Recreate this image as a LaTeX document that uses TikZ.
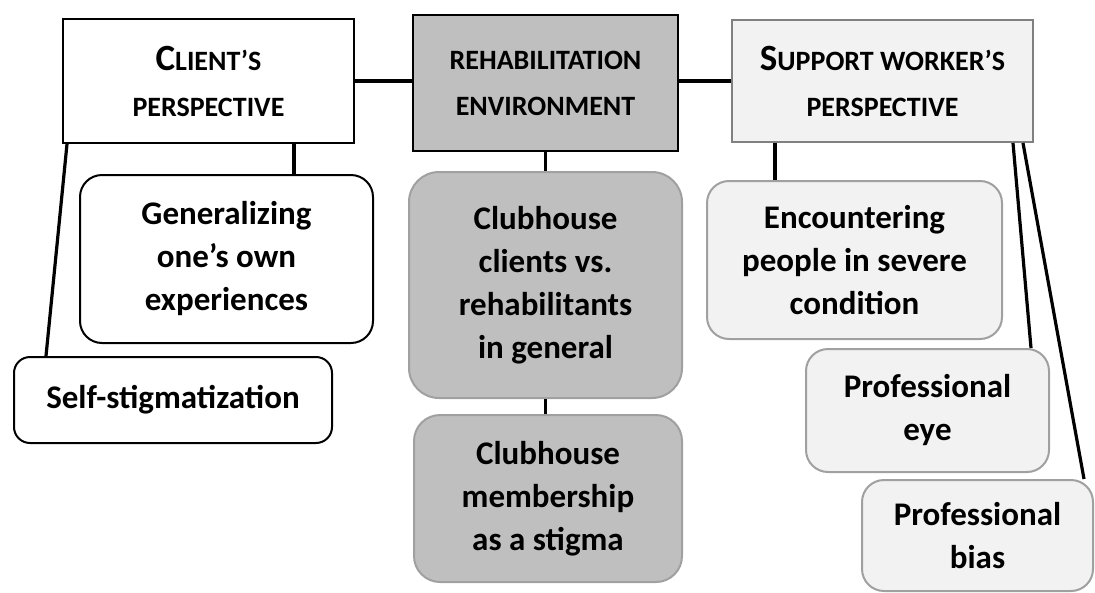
\documentclass[tikz,border=0pt]{standalone}
\usepackage{fontspec}
\setmainfont{Carlito}
\usetikzlibrary{positioning,calc}
\definecolor{envgray}{HTML}{BFBFBF}
\definecolor{lightbox}{HTML}{F2F2F2}
\definecolor{rimgray}{HTML}{A0A0A0}
\newcommand{\initcap}[1]{{\fontsize{37}{46}\selectfont #1}}

\tikzset{
  head/.style={draw, line width=2pt, align=center, inner sep=0pt,
               font=\fontsize{28}{46}\selectfont\bfseries},
  theme/.style={draw, line width=2pt, rounded corners=22pt, align=center, inner sep=0pt,
               font=\fontsize{33}{43}\selectfont\bfseries},
  link/.style={line width=3.2pt}
}

\begin{document}
\begin{tikzpicture}[x=1pt, y=-1pt]
\useasboundingbox (0,0) rectangle (1095,592);

% three perspectives
\node[head, fill=white, minimum width=291pt, minimum height=124pt] (client) at (208.5,81)
  {\initcap{C}LIENT’S\\PERSPECTIVE};
\node[head, fill=envgray, minimum width=265pt, minimum height=136pt] (env) at (545.5,83)
  {REHABILITATION\\ENVIRONMENT};
\node[head, draw=gray, fill=lightbox, minimum width=301pt, minimum height=122pt] (worker) at (882.5,81)
  {\initcap{S}UPPORT WORKER’S\\PERSPECTIVE};

% client themes
\node[theme, fill=white, minimum width=293pt, minimum height=168pt] (general) at (226.5,259)
  {Generalizing\\one’s own\\experiences};
\node[theme, fill=white, minimum width=318pt, minimum height=86pt, rounded corners=16pt] (selfstig) at (173,400)
  {Self-stigmatization};

% environment themes
\node[theme, draw=rimgray, fill=envgray, minimum width=273pt, minimum height=226pt, rounded corners=30pt] (clients) at (545.5,285)
  {Clubhouse\\clients vs.\\rehabilitants\\in general};
\node[theme, draw=rimgray, fill=envgray, minimum width=268pt, minimum height=167pt, rounded corners=26pt] (member) at (548,498.5)
  {Clubhouse\\membership\\as a stigma};

% worker themes
\node[theme, draw=rimgray, fill=lightbox, minimum width=295pt, minimum height=158pt] (encounter) at (854.5,260)
  {Encountering\\people in severe\\condition};
\node[theme, draw=rimgray, fill=lightbox, minimum width=243pt, minimum height=123pt] (eye) at (927.5,410.5)
  {Professional\\eye};
\node[theme, draw=rimgray, fill=lightbox, minimum width=231pt, minimum height=111pt] (bias) at (977.5,535.5)
  {Professional\\bias};

%
\draw[link] (client.east) -- (client.east -| env.west);
\draw[link] (worker.west -| env.east) -- (worker.west);
\draw[link] ([xshift=67.5pt]general.north) -- ([xshift=67.5pt]general.north |- client.south);
\draw[link] ([xshift=5pt]client.south west) -- ([xshift=33pt]selfstig.north west);
\draw[link] (env.south) -- (env.south |- clients.north);
\draw[link] (clients.south) -- (clients.south |- member.north);
\draw[link] ([xshift=44pt]worker.south west) -- ([xshift=44pt]worker.south west |- encounter.north);
\draw[link] ([xshift=-21pt]worker.south east) -- ([xshift=-19pt]eye.north east);
\draw[link] ([xshift=-11pt]worker.south east) -- ([xshift=-10pt]bias.north east);
\end{tikzpicture}
\end{document}
